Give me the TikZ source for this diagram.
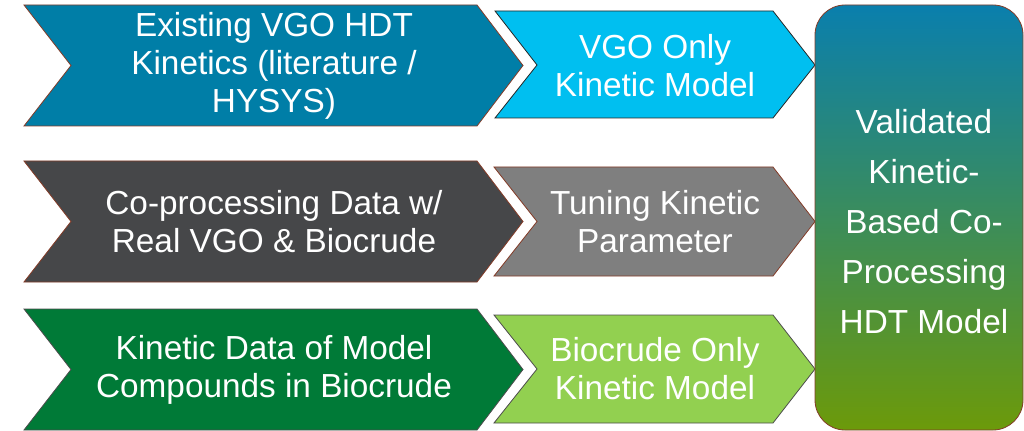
\documentclass[tikz,border=0pt]{standalone}
\usepackage{fontspec}
\setmainfont{Liberation Sans}
\usepackage{tikz}

\definecolor{vgoblue}{RGB}{0,126,167}
\definecolor{vgocyan}{RGB}{0,191,240}
\definecolor{coprocgray}{RGB}{70,71,73}
\definecolor{tunegray}{RGB}{127,127,127}
\definecolor{biogreen}{RGB}{0,122,55}
\definecolor{biolime}{RGB}{146,208,80}
\definecolor{rimbrown}{RGB}{132,60,40}
\definecolor{validtop}{RGB}{10,127,173}
\definecolor{validbot}{RGB}{108,154,10}

\begin{document}
\begin{tikzpicture}[x=0.75pt,y=0.75pt,yscale=-1,xscale=1,
  chevtxt/.style={align=center,text=white,inner sep=0.75pt,font=\fontsize{25}{28.5}\selectfont},
  validtxt/.style={align=center,text=white,inner sep=0.75pt,font=\fontsize{25}{37.5}\selectfont},
  rim/.style={line width=0.6pt}]
\useasboundingbox (0,0) rectangle (1024,431);

%Shape: Chevron
\draw[rim,draw=rimbrown,fill=vgoblue] (24,5) -- (477,5) -- (523,65.5) -- (477,126) -- (24,126) -- (71,65.5) -- cycle ;
%Shape: Chevron
\draw[rim,draw=black!85,fill=vgocyan] (495,11) -- (773,11) -- (815,65) -- (773,118) -- (495,118) -- (537,65) -- cycle ;
%Shape: Chevron
\draw[rim,draw=rimbrown,fill=coprocgray] (24,161) -- (477,161) -- (523,221.5) -- (477,282) -- (24,282) -- (71,221.5) -- cycle ;
%Shape: Chevron
\draw[rim,draw=rimbrown,fill=tunegray] (494,167) -- (773,167) -- (815,221.5) -- (773,276) -- (494,276) -- (537,221.5) -- cycle ;
%Shape: Chevron
\draw[rim,draw=black!70,fill=biogreen] (24,309) -- (477,309) -- (523,369.5) -- (477,430) -- (24,430) -- (71,369.5) -- cycle ;
%Shape: Chevron
\draw[rim,draw=black!70,fill=biolime] (494,315) -- (773,315) -- (815,369) -- (773,423) -- (494,423) -- (537,369) -- cycle ;
%Rounded Rect
\draw[rim,draw=rimbrown,rounded corners=22.5pt,top color=validtop,bottom color=validbot] (815,5) rectangle (1023,430) ;

% Text Node
\node[chevtxt] (exist) at (274,65.5) {Existing VGO HDT\\Kinetics (literature /\\HYSYS)};
% Text Node
\node[chevtxt] (vgoonly) at (655,66) {VGO Only\\Kinetic Model};
% Text Node
\node[chevtxt] (coproc) at (274,221.5) {Co-processing Data w/\\Real VGO \& Biocrude};
% Text Node
\node[chevtxt] (tuning) at (655,221.5) {Tuning Kinetic\\Parameter};
% Text Node
\node[chevtxt] (kindata) at (274,369.5) {Kinetic Data of Model\\Compounds in Biocrude};
% Text Node
\node[chevtxt] (bioonly) at (655,369) {Biocrude Only\\Kinetic Model};
% Text Node
\node[validtxt] (valid) at (924,222) {Validated\\Kinetic-\\Based Co-\\Processing\\HDT Model};

\end{tikzpicture}
\end{document}
